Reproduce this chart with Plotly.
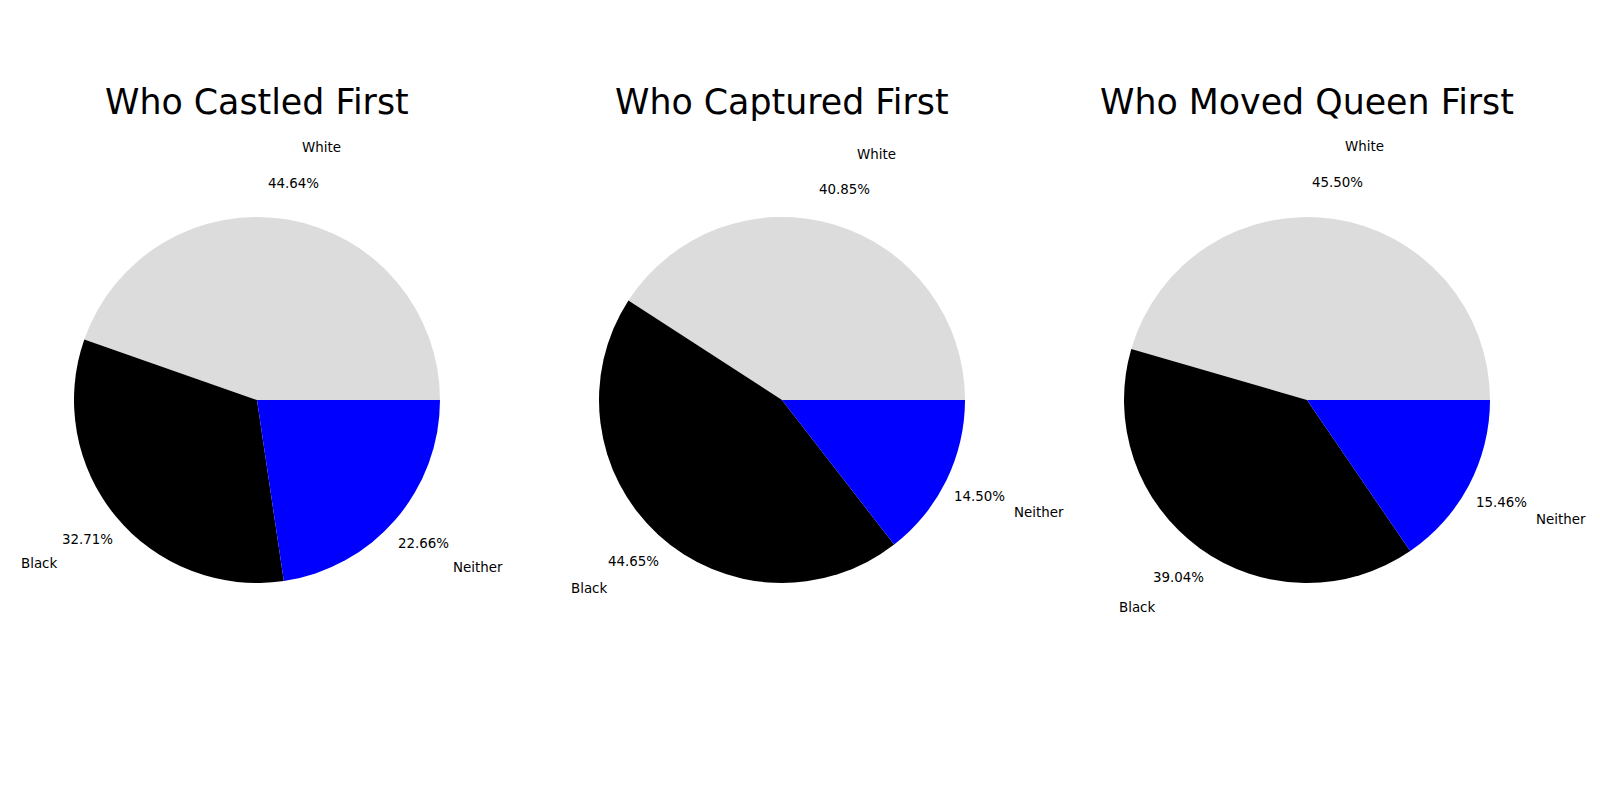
import math
import plotly.graph_objects as go

titles = ["Who Castled First", "Who Captured First", "Who Moved Queen First"]
labels = ["White", "Black", "Neither"]
castled = [44.64, 32.71, 22.66]
captured = [40.85, 44.65, 14.50]
queen = [45.50, 39.04, 15.46]
series = [castled, captured, queen]
colors = ["#dcdcdc", "#000000", "#0000ff"]

W, H = 1600, 800
centers_px = [257, 782, 1307]
cy_px = 400
R = 183
FONT = "DejaVu Sans"
SMALL = 13.4

fig = go.Figure()
annotations = []
for i, vals in enumerate(series):
    cx = centers_px[i]
    total = sum(vals)
    # plotly's counterclockwise layout puts the first slice clockwise of the
    # rotation point; shift so the first slice starts at 3 o'clock going ccw
    rot = 90 - 360 * vals[0] / total
    fig.add_trace(go.Pie(
        labels=labels, values=vals, sort=False, direction="counterclockwise",
        rotation=rot, textinfo="none", hoverinfo="label+percent",
        marker=dict(colors=colors, line=dict(width=0)),
        domain=dict(x=[(cx - R) / W, (cx + R) / W], y=[(cy_px - R) / H, (cy_px + R) / H]),
        showlegend=False,
    ))
    start = 0.0
    for lab, v in zip(labels, vals):
        mid = (start + v / 2) / total * 2 * math.pi
        start += v
        c, s = math.cos(mid), math.sin(mid)
        px = cx + 1.2 * R * c
        py = cy_px - 1.2 * R * s
        annotations.append(dict(x=px / W, y=1 - py / H, xref="paper", yref="paper",
                                text=f"{v / total * 100:.2f}%", showarrow=False,
                                xanchor="center", yanchor="middle",
                                font=dict(family=FONT, size=SMALL, color="black")))
        lx = cx + 1.4 * R * c
        ly = cy_px - 1.4 * R * s
        annotations.append(dict(x=lx / W, y=1 - ly / H, xref="paper", yref="paper",
                                text=lab, showarrow=False,
                                xanchor="left" if c > 0 else "right", yanchor="middle",
                                font=dict(family=FONT, size=SMALL, color="black")))
    annotations.append(dict(x=cx / W, y=1 - 102 / H, xref="paper", yref="paper",
                            text=titles[i], showarrow=False, xanchor="center", yanchor="middle",
                            font=dict(family=FONT, size=34.8, color="black")))

fig.update_layout(width=W, height=H, margin=dict(l=0, r=0, t=0, b=0),
                  paper_bgcolor="white", plot_bgcolor="white",
                  annotations=annotations)
fig.write_html("out.html", config={"displayModeBar": False},
               post_script="document.body.style.margin='0';")
